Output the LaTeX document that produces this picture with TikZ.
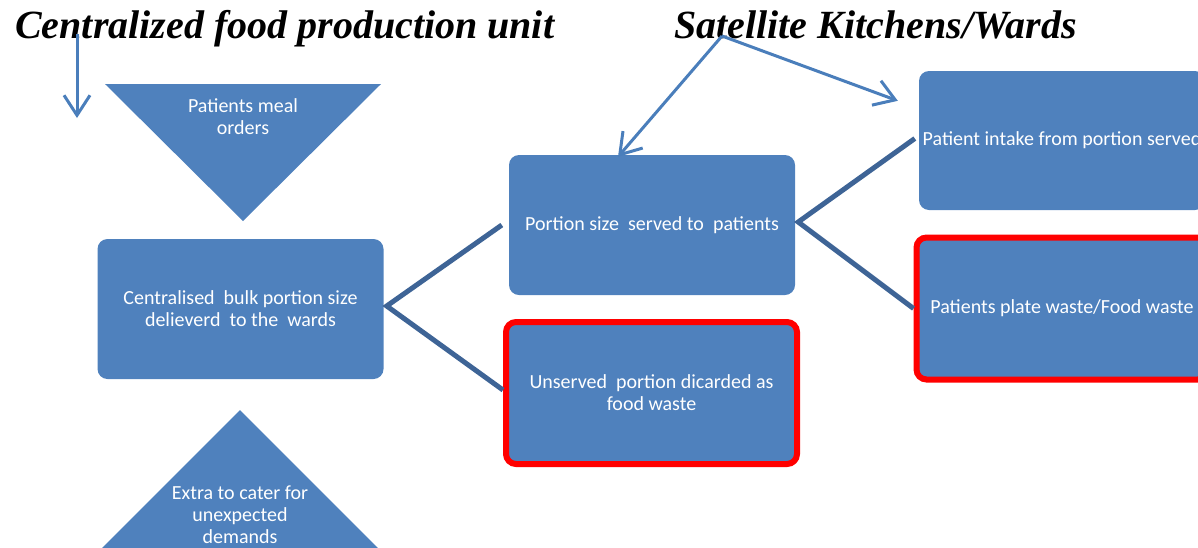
\documentclass[tikz,border=0pt]{standalone}
\usepackage{fontspec}
\setmainfont{Carlito}
\newfontfamily\titlefont{Liberation Serif}
\usetikzlibrary{arrows.meta}

\definecolor{boxblue}{RGB}{79,129,189}
\definecolor{linkblue}{RGB}{62,100,150}
\definecolor{arrowblue}{RGB}{74,126,187}

\begin{document}
\begin{tikzpicture}[x=1pt, y=-1pt]
		\tikzset{
			every node/.style={
				align=center,
				text=white,
				font=\fontsize{20}{22}\selectfont
			},
			box/.style={
				rectangle,
				rounded corners=10pt,
				fill=boxblue,
				minimum width=286pt,
				minimum height=140pt,
				inner sep=0pt
			},
			wastebox/.style={
				box,
				draw=red,
				line width=6pt,
				minimum width=291pt,
				minimum height=142pt
			},
			title/.style={
				anchor=base west,
				text=black,
				inner sep=0pt,
				font=\titlefont\bfseries\itshape\fontsize{40}{44}\selectfont
			},
			bracket/.style={
				draw=linkblue,
				line width=5pt
			},
			pointer/.style={
				draw=arrowblue,
				line width=3pt,
				-{Straight Barb[length=20pt, width=26pt]}
			}
		}

		\useasboundingbox (0,0) rectangle (1198,547);

		\node[title] (cfpu) at (15,38)
			{Centralized food production unit};
		\node[title] (skw) at (674,38)
			{Satellite Kitchens/Wards};

		% triangles
		\coordinate (orders-l) at (105,84);
		\coordinate (orders-r) at (381,84);
		\coordinate (orders-tip) at (243,221);
		\fill[boxblue] (orders-l) -- (orders-r) -- (orders-tip) -- cycle;
		\node (orders) at (243,117)
			{Patients meal\\orders};

		\coordinate (extra-tip) at (240,410);
		\coordinate (extra-l) at (90,560);
		\coordinate (extra-r) at (390,560);
		\fill[boxblue] (extra-tip) -- (extra-r) -- (extra-l) -- cycle;
		\node (extra) at (240,515)
			{Extra to cater for\\unexpected\\demands};

		% boxes
		\node[box] (central) at (240.5,309)
			{Centralised\ \ bulk portion size\\delieverd\ \ to the\ \ wards};
		\node[box] (portion) at (652,225)
			{Portion size\ \ served to\ \ patients};
		\node[wastebox] (unserved) at (651.5,393)
			{Unserved\ \ portion dicarded as\\food waste};
		\node[box, minimum height=139pt] (intake) at (1062,140.5)
			{Patient intake from portion served};
		\node[wastebox] (platewaste) at (1062,308.5)
			{Patients plate waste/Food waste};

		\draw[bracket] ([xshift=-7pt]portion.west)
			-- ([xshift=3pt, yshift=3pt]central.east)
			-- ([yshift=3pt]unserved.west);
		\draw[bracket] ([xshift=-4pt, yshift=2pt]intake.west)
			-- ([xshift=3pt, yshift=3pt]portion.east)
			-- (platewaste.west);

		% arrows from the titles
		\coordinate (cfpu-from) at (77,34);
		\coordinate (cfpu-to) at (77,118);
		\coordinate (skw-from) at (722,36);

		\draw[pointer] (cfpu-from) -- (cfpu-to);
		\draw[pointer] (skw-from) -- ([xshift=-34pt, yshift=-2pt]portion.north);
		\draw[pointer] (skw-from) -- ([xshift=-21pt, yshift=-30pt]intake.north west);

	\end{tikzpicture}
\end{document}
